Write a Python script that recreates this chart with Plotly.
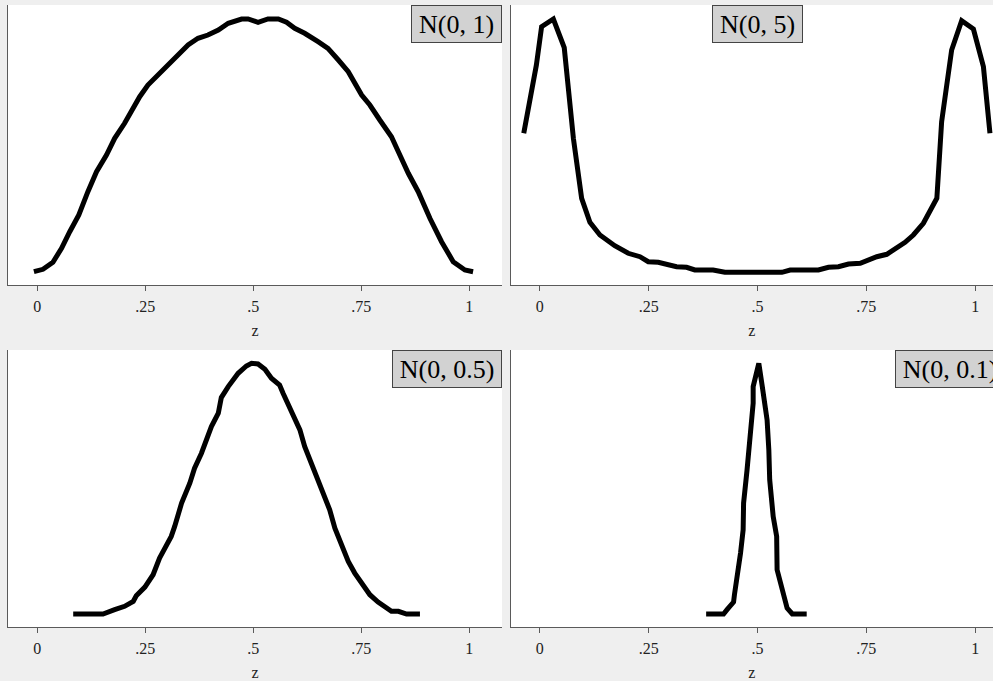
import plotly.graph_objects as go

# ---- data ----
z_n1 = [-0.008, 0.013, 0.036, 0.056, 0.075, 0.096, 0.117, 0.137, 0.160, 0.179, 0.202, 0.237, 0.256,
        0.287, 0.318, 0.349, 0.372, 0.395, 0.419, 0.442, 0.473, 0.488, 0.511, 0.534, 0.558, 0.577,
        0.596, 0.619, 0.650, 0.673, 0.697, 0.720, 0.751, 0.770, 0.793, 0.820, 0.836, 0.859, 0.882,
        0.909, 0.936, 0.963, 0.990, 1.009]
d_n1 = [0.133, 0.157, 0.227, 0.367, 0.533, 0.700, 0.933, 1.133, 1.300, 1.467, 1.617, 1.883, 2.000,
        2.133, 2.267, 2.400, 2.467, 2.500, 2.550, 2.617, 2.660, 2.660, 2.627, 2.660, 2.660, 2.627,
        2.567, 2.517, 2.433, 2.367, 2.250, 2.133, 1.900, 1.800, 1.650, 1.483, 1.333, 1.117, 0.933,
        0.667, 0.433, 0.233, 0.150, 0.133]

z_n5 = [-0.037, -0.008, 0.004, 0.031, 0.056, 0.077, 0.096, 0.115, 0.138, 0.172, 0.203, 0.230, 0.249,
        0.272, 0.314, 0.337, 0.356, 0.398, 0.425, 0.556, 0.575, 0.640, 0.663, 0.686, 0.709, 0.736,
        0.774, 0.797, 0.839, 0.858, 0.881, 0.912, 0.923, 0.946, 0.969, 0.996, 1.019, 1.034]
d_n5 = [1.517, 2.200, 2.583, 2.660, 2.373, 1.467, 0.867, 0.627, 0.500, 0.393, 0.317, 0.283, 0.233,
        0.227, 0.183, 0.177, 0.150, 0.150, 0.127, 0.127, 0.150, 0.150, 0.177, 0.183, 0.210, 0.217,
        0.283, 0.307, 0.427, 0.500, 0.617, 0.867, 1.633, 2.350, 2.643, 2.560, 2.183, 1.517]

z_n05 = [0.083, 0.152, 0.179, 0.202, 0.222, 0.229, 0.249, 0.268, 0.283, 0.310, 0.318, 0.334, 0.353,
         0.364, 0.380, 0.392, 0.403, 0.419, 0.426, 0.442, 0.465, 0.484, 0.496, 0.511, 0.527, 0.542,
         0.561, 0.569, 0.588, 0.608, 0.619, 0.639, 0.658, 0.677, 0.689, 0.704, 0.720, 0.735, 0.751,
         0.770, 0.789, 0.812, 0.820, 0.836, 0.855, 0.886]
d_n05 = [0.130, 0.130, 0.173, 0.207, 0.257, 0.313, 0.400, 0.523, 0.690, 0.907, 1.007, 1.240, 1.440,
         1.590, 1.740, 1.873, 2.007, 2.140, 2.297, 2.407, 2.540, 2.613, 2.640, 2.633, 2.580, 2.490,
         2.423, 2.340, 2.173, 1.973, 1.807, 1.590, 1.373, 1.173, 0.990, 0.840, 0.657, 0.540, 0.440,
         0.323, 0.250, 0.190, 0.157, 0.157, 0.130, 0.130]

z_n01 = [0.382, 0.422, 0.430, 0.445, 0.447, 0.453, 0.461, 0.467, 0.468, 0.476, 0.484, 0.490, 0.490,
         0.503, 0.511, 0.522, 0.526, 0.528, 0.536, 0.544, 0.545, 0.553, 0.567, 0.568, 0.580, 0.613]
d_n01 = [0.130, 0.130, 0.173, 0.250, 0.323, 0.473, 0.740, 0.973, 1.240, 1.573, 1.940, 2.240, 2.407,
         2.640, 2.407, 2.073, 1.773, 1.473, 1.107, 0.907, 0.573, 0.440, 0.250, 0.190, 0.130, 0.130]

tick_vals = [0, 0.25, 0.5, 0.75, 1]
tick_text = ["0", ".25", ".5", ".75", "1"]
labels = ["N(0, 1)", "N(0, 5)", "N(0, 0.5)", "N(0, 0.1)"]

# ---- figure ----
W, H = 993, 681
ML, MR, MT, MB = 8, 0, 5, 54
pw = W - ML - MR
ph = H - MT - MB
BG = "#efefef"

def px_x(p):
    return (p - ML) / pw

def px_y(p):
    return (H - MB - p) / ph

left_dom = [0, px_x(502)]
right_dom = [px_x(510.7), 1]
top_dom = [px_y(285), 1]
bot_dom = [0, px_y(350)]

FONT = "Liberation Serif"
AX = "#5a5a5a"

fig = go.Figure()
series = [(z_n1, d_n1, "x", "y"), (z_n5, d_n5, "x2", "y2"),
          (z_n05, d_n05, "x3", "y3"), (z_n01, d_n01, "x4", "y4")]
for xs, ys, xa, ya in series:
    fig.add_trace(go.Scatter(x=xs, y=ys, mode="lines", xaxis=xa, yaxis=ya,
                             line=dict(color="black", width=5), showlegend=False,
                             hoverinfo="skip"))

xcommon = dict(showline=True, linecolor=AX, linewidth=1, ticks="outside", ticklen=5,
               tickcolor=AX, tickwidth=1, tickvals=tick_vals, ticktext=tick_text,
               showgrid=False, zeroline=False,
               tickfont=dict(family=FONT, size=16, color="#222"),
               ticklabelstandoff=2,
               title=dict(text="z", font=dict(family=FONT, size=16, color="#222"), standoff=10))
ycommon = dict(showline=True, linecolor=AX, linewidth=1, ticks="", showticklabels=False,
               showgrid=False, zeroline=False)

fig.update_layout(
    width=W, height=H,
    margin=dict(l=ML, r=MR, t=MT, b=MB),
    paper_bgcolor=BG, plot_bgcolor="white",
    xaxis=dict(domain=left_dom, anchor="y", range=[-0.068, 1.076], **xcommon),
    yaxis=dict(domain=top_dom, anchor="x", range=[0, 2.8], **ycommon),
    xaxis2=dict(domain=right_dom, anchor="y2", range=[-0.067, 1.041], **xcommon),
    yaxis2=dict(domain=top_dom, anchor="x2", range=[0, 2.8], **ycommon),
    xaxis3=dict(domain=left_dom, anchor="y3", range=[-0.068, 1.076], **xcommon),
    yaxis3=dict(domain=bot_dom, anchor="x3", range=[0, 2.773], **ycommon),
    xaxis4=dict(domain=right_dom, anchor="y4", range=[-0.067, 1.041], **xcommon),
    yaxis4=dict(domain=bot_dom, anchor="x4", range=[0, 2.773], **ycommon),
)

box = dict(font=dict(family=FONT, size=26, color="black"), showarrow=False,
           bgcolor="#d2d2d2", bordercolor="#444", borderwidth=1, borderpad=1,
           yanchor="top", yref="paper", height=34)
fig.add_annotation(text=labels[0], xref="paper", x=left_dom[1], xanchor="right",
                   y=top_dom[1], width=87, **box)
fig.add_annotation(text=labels[1], xref="x2", x=0.5, xanchor="center",
                   y=top_dom[1], width=87, **box)
fig.add_annotation(text=labels[2], xref="paper", x=left_dom[1], xanchor="right",
                   y=bot_dom[1], width=106, **box)
fig.add_annotation(text=labels[3], xref="paper", x=px_x(1005), xanchor="right",
                   y=bot_dom[1], width=106, **box)

fig.write_html(
    "out.html",
    config={"displayModeBar": False},
    post_script="document.body.style.margin='0';document.body.style.background='%s';"
                "document.body.style.overflow='hidden';" % BG,
)
